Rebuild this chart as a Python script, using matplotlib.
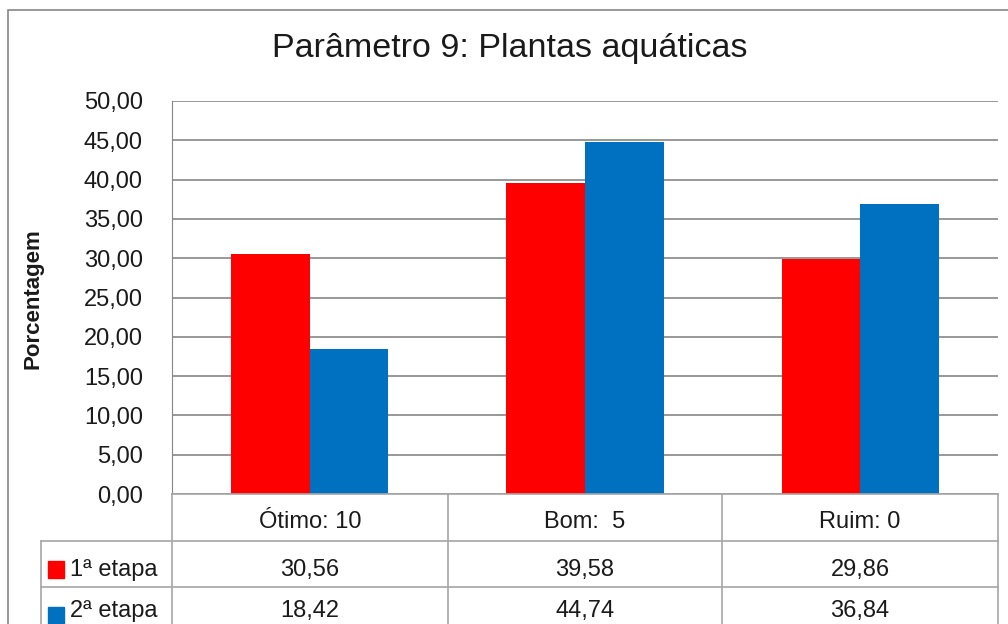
import matplotlib
matplotlib.use("Agg")
import matplotlib.pyplot as plt
from matplotlib.patches import Rectangle
import numpy as np

categories = ["Ótimo: 10", "Bom:  5", "Ruim: 0"]
series_names = ["1ª etapa", "2ª etapa"]
etapa1 = [30.56, 39.58, 29.86]
etapa2 = [18.42, 44.74, 36.84]
colors = ["#FF0000", "#0070C0"]
yticks = [0, 5, 10, 15, 20, 25, 30, 35, 40, 45, 50]

FONT = ["Liberation Sans", "DejaVu Sans"]
plt.rcParams['font.family'] = FONT

W, H = 1008, 624
fig = plt.figure(figsize=(W / 100, H / 100), dpi=100)

def fx(px):
    return px / W

def fy(py):
    return 1 - py / H

# outer border
fig.add_artist(Rectangle((fx(8), fy(640)), fx(1010) - fx(8), fy(10) - fy(640),
                         transform=fig.transFigure, fill=False, ec="#868686", lw=1.2))

L, R, T, B = 172, 998, 101, 494
ax = fig.add_axes([fx(L), fy(B), fx(R) - fx(L), fy(T) - fy(B)])
x = np.arange(len(categories))
bw = 1 / 3.5
ax.bar(x - bw / 2, etapa1, width=bw, color=colors[0], zorder=3)
ax.bar(x + bw / 2, etapa2, width=bw, color=colors[1], zorder=3)
ax.set_xlim(-0.5, len(categories) - 0.5)
ax.set_ylim(0, 50)
ax.set_yticks(yticks)
ax.set_yticklabels([f"{v:.2f}".replace(".", ",") for v in yticks], fontsize=17, color="#1a1a1a")
ax.tick_params(axis="y", length=0, pad=21)
ax.set_xticks([])
for s in ["top", "right", "bottom"]:
    ax.spines[s].set_visible(False)
ax.spines["left"].set_color("#868686")
ax.grid(axis="y", color="#868686", lw=1.2, zorder=1)

fig.text(fx(510), fy(48), "Parâmetro 9: Plantas aquáticas", ha="center", va="center",
         fontsize=24.5, color="#1a1a1a")
fig.text(fx(33), fy(299), "Porcentagem", ha="center", va="center", rotation=90,
         fontsize=16, fontweight="bold", color="#1a1a1a")

# data table
cols = [L, 448, 722, R]
rows = [B, 541, 587, 633]
lc = "#a6a6a6"

def hline(y, x0, x1):
    fig.add_artist(plt.Line2D([fx(x0), fx(x1)], [fy(y), fy(y)], transform=fig.transFigure,
                              color=lc, lw=1.2))

def vline(xp, y0, y1):
    fig.add_artist(plt.Line2D([fx(xp), fx(xp)], [fy(y0), fy(y1)], transform=fig.transFigure,
                              color=lc, lw=1.2))

hline(B, L, R)
hline(rows[1], 41, R)
hline(rows[2], 41, R)
for c in cols:
    vline(c, B, 640)
vline(41, rows[1], 640)

ty = [522, 570, 611]
for i, cat in enumerate(categories):
    cx = (cols[i] + cols[i + 1]) / 2
    fig.text(fx(cx), fy(ty[0]), cat, ha="center", va="center", fontsize=17, color="#1a1a1a")
    fig.text(fx(cx), fy(ty[1]), f"{etapa1[i]:.2f}".replace(".", ","), ha="center", va="center",
             fontsize=17, color="#1a1a1a")
    fig.text(fx(cx), fy(ty[2]), f"{etapa2[i]:.2f}".replace(".", ","), ha="center", va="center",
             fontsize=17, color="#1a1a1a")

for j, (name, col) in enumerate(zip(series_names, colors)):
    top = 561 + 46 * j
    fig.add_artist(Rectangle((fx(48), fy(top + 17)), fx(16), 17 / H,
                             transform=fig.transFigure, color=col))
    fig.text(fx(70), fy(ty[1 + j]), name, ha="left", va="center", fontsize=17, color="#1a1a1a")

fig.savefig("out.png", dpi=100)
